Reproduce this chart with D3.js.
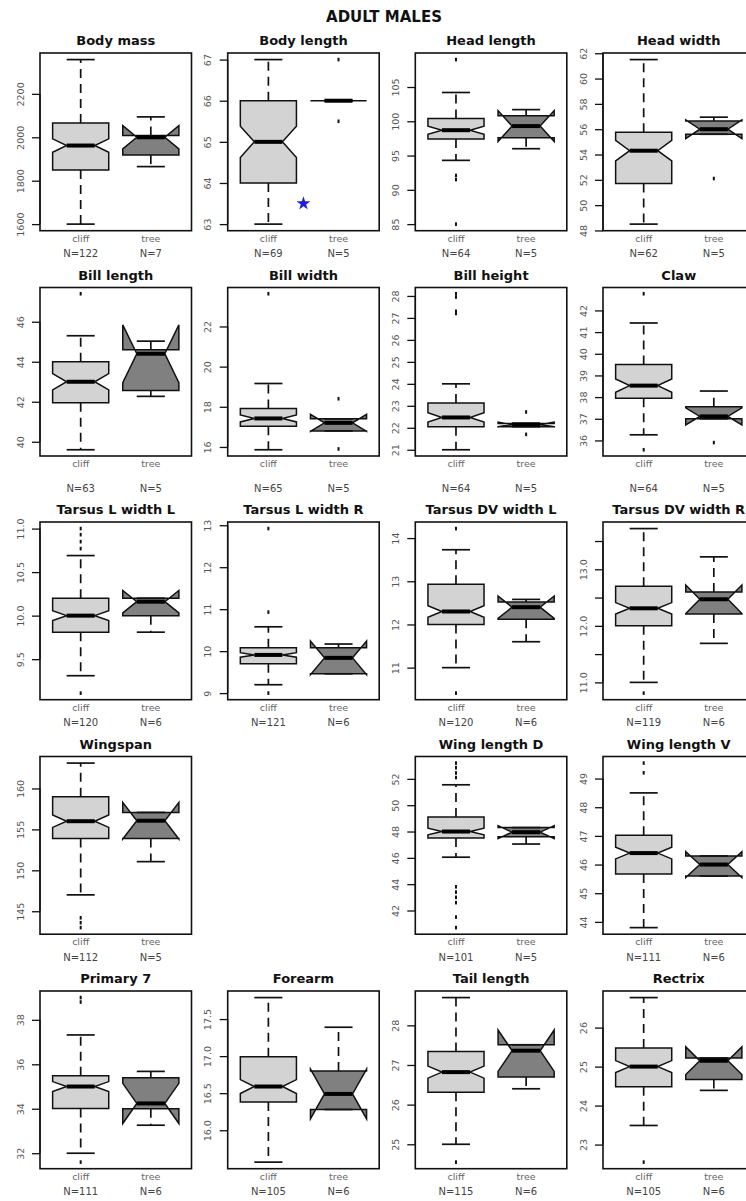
<!DOCTYPE html>
<html>
<head>
<meta charset="utf-8">
<script src="https://cdn.jsdelivr.net/npm/d3@7"></script>
<style>
  body { margin: 0; background: #fff; }
  svg { display: block; }
</style>
</head>
<body>
<svg id="chart" width="746" height="1201"></svg>
<script>
// ---- Measurements of adult males, cliff- vs tree-nesting birds ----
const mainTitle = "ADULT MALES";
const groupNames = ["cliff", "tree"];

// One entry per grid slot (row-major, 5 rows x 4 columns); null = empty slot
const panelTitles = [
  "Body mass", "Body length", "Head length", "Head width",
  "Bill length", "Bill width", "Bill height", "Claw",
  "Tarsus L width L", "Tarsus L width R", "Tarsus DV width L", "Tarsus DV width R",
  "Wingspan", null, "Wing length D", "Wing length V",
  "Primary 7", "Forearm", "Tail length", "Rectrix"
];

const nCliff = [122, 69, 64, 62, 63, 65, 64, 64, 120, 121, 120, 119, 112, null, 101, 111, 111, 105, 115, 105];
const nTree  = [7, 5, 5, 5, 5, 5, 5, 5, 6, 6, 6, 6, 5, null, 5, 6, 6, 6, 6, 6];

// [lower whisker, lower hinge, median, upper hinge, upper whisker]
const cliffStats = [
  [1600, 1849, 1962, 2066, 2358],
  [63, 64, 65, 66, 67],
  [94.3, 97.4, 98.7, 100.4, 104.2],
  [48.5, 51.7, 54.3, 55.75, 61.5],
  [39.6, 41.95, 43.0, 44.0, 45.3],
  [15.86, 17.03, 17.42, 17.92, 19.16],
  [21.0, 22.05, 22.47, 23.13, 24.0],
  [36.26, 37.95, 38.53, 39.51, 41.42],
  [9.31, 9.81, 10.0, 10.2, 10.69],
  [9.2, 9.7, 9.91, 10.08, 10.58],
  [11.0, 12.0, 12.3, 12.93, 13.73],
  [11.0, 12.0, 12.31, 12.7, 13.72],
  [147.0, 153.9, 156.0, 159.0, 163.1],
  null,
  [46.05, 47.5, 48.0, 49.1, 51.55],
  [43.8, 45.67, 46.4, 47.02, 48.5],
  [32.0, 34.01, 35.0, 35.49, 37.32],
  [15.57, 16.38, 16.59, 16.99, 17.79],
  [25.0, 26.31, 26.82, 27.34, 28.7],
  [23.49, 24.48, 25.0, 25.48, 26.77]
];

const treeStats = [
  [1865, 1918, 2000, 2008, 2094],
  [66, 66, 66, 66, 66],
  [96.0, 97.6, 99.3, 100.8, 101.7],
  [55.6, 55.6, 56.0, 56.65, 56.95],
  [42.27, 42.56, 44.4, 44.6, 45.03],
  [16.8, 16.8, 17.2, 17.4, 17.4],
  [22.05, 22.05, 22.15, 22.2, 22.2],
  [37.0, 37.0, 37.11, 37.56, 38.28],
  [9.81, 10.0, 10.16, 10.2, 10.2],
  [9.46, 9.46, 9.84, 10.08, 10.17],
  [11.6, 12.12, 12.4, 12.52, 12.58],
  [11.69, 12.21, 12.47, 12.6, 13.22],
  [151.06, 153.9, 156.06, 157.07, 157.07],
  null,
  [47.05, 47.6, 47.95, 48.3, 48.3],
  [45.6, 45.6, 46.0, 46.3, 46.3],
  [33.26, 34.0, 34.24, 35.4, 35.68],
  [16.28, 16.28, 16.49, 16.8, 17.39],
  [26.4, 26.7, 27.36, 27.51, 27.51],
  [24.39, 24.67, 25.15, 25.22, 25.22]
];

// Points beyond the whiskers
const cliffOutliers = [
  [], [], [109, 92.1, 91.5, 85], [],
  [47.4], [23.63], [28.1, 27.95, 27.3, 27.2], [42.77, 35.57],
  [11.0, 10.93, 10.85, 10.77, 9.11], [12.92, 10.93, 9.0], [14.22, 10.41], [10.81],
  [144.2, 143.6, 143.0], null, [53.2, 52.85, 52.45, 52.1, 43.8, 43.4, 43.0, 42.6, 41.5, 40.7], [49.54, 49.2],
  [39.0, 38.8, 31.6], [], [24.55], [22.55]
];
const treeOutliers = [
  [], [67, 65.5], [], [52.1],
  [], [18.4, 15.9], [22.72, 21.7], [35.9],
  [], [], [], [],
  [], null, [], [],
  [], [], [], []
];

// y-axis ticks and their printed labels ("" = tick without label)
const tickValues = [
  [1600, 1800, 2000, 2200], [63, 64, 65, 66, 67], [85, 90, 95, 100, 105], [48, 50, 52, 54, 56, 58, 60, 62],
  [40, 42, 44, 46], [16, 18, 20, 22], [21, 22, 23, 24, 25, 26, 27, 28], [36, 37, 38, 39, 40, 41, 42],
  [9.5, 10.0, 10.5, 11.0], [9, 10, 11, 12, 13], [11, 12, 13, 14], [11.0, 11.5, 12.0, 12.5, 13.0, 13.5],
  [145, 150, 155, 160], null, [42, 44, 46, 48, 50, 52], [44, 45, 46, 47, 48, 49],
  [32, 34, 36, 38], [16.0, 16.5, 17.0, 17.5], [25, 26, 27, 28], [23, 24, 25, 26]
];
const tickLabels = [
  ["1600", "1800", "2000", "2200"], ["63", "64", "65", "66", "67"], ["85", "90", "95", "100", "105"], ["48", "50", "52", "54", "56", "58", "60", "62"],
  ["40", "42", "44", "46"], ["16", "18", "20", "22"], ["21", "22", "23", "24", "25", "26", "27", "28"], ["36", "37", "38", "39", "40", "41", "42"],
  ["9.5", "10.0", "10.5", "11.0"], ["9", "10", "11", "12", "13"], ["11", "12", "13", "14"], ["11.0", "", "12.0", "", "13.0", ""],
  ["145", "150", "155", "160"], null, ["42", "44", "46", "48", "50", "52"], ["44", "45", "46", "47", "48", "49"],
  ["32", "34", "36", "38"], ["16.0", "16.5", "17.0", "17.5"], ["25", "26", "27", "28"], ["23", "24", "25", "26"]
];

// Significance marker: [panel index, x position, value]
const markers = [[1, 1.5, 63.5]];

// ---- Layout ----
const svg = d3.select("#chart");
const FONT = "'DejaVu Sans', 'Liberation Sans', Arial, sans-serif";
const colLeft = [40, 227.7, 415.3, 603];
const plotW = 151.5;
const rowPitch = 234.5;
const firstTop = 53;
const plotH = r => (r === 1 ? 168.5 : 177.7);
const boxFill = ["#d3d3d3", "#808080"];

svg.append("text")
  .attr("x", 384).attr("y", 22)
  .attr("text-anchor", "middle")
  .attr("font-family", FONT).attr("font-weight", "bold").attr("font-size", 15)
  .attr("fill", "#111")
  .text(mainTitle);

panelTitles.forEach((title, i) => {
  if (title === null) return;
  const row = Math.floor(i / 4), col = i % 4;
  const top = firstTop + row * rowPitch;
  const bottom = top + plotH(row);
  const left = colLeft[col], right = left + plotW;

  const groups = [
    { stats: cliffStats[i], out: cliffOutliers[i], n: nCliff[i], pos: 1 },
    { stats: treeStats[i], out: treeOutliers[i], n: nTree[i], pos: 2 }
  ];
  groups.forEach(g => {
    const half = 1.58 * (g.stats[3] - g.stats[1]) / Math.sqrt(g.n);
    g.conf = [g.stats[2] - half, g.stats[2] + half];
  });

  // Value range covers whiskers, outliers and notches, padded 4% each side
  const all = groups.flatMap(g => [g.stats[0], g.stats[4], ...g.out, ...g.conf]);
  const lo = d3.min(all), hi = d3.max(all), pad = (hi - lo) * 0.04;
  const y = d3.scaleLinear().domain([lo - pad, hi + pad]).range([bottom, top]);
  const x = d3.scaleLinear().domain([0.42, 2.58]).range([left, right]);

  const p = svg.append("g");

  // Panel title
  p.append("text")
    .attr("x", (left + right) / 2).attr("y", top - 8)
    .attr("text-anchor", "middle")
    .attr("font-family", FONT).attr("font-weight", "bold").attr("font-size", 13)
    .attr("fill", "#111")
    .text(title);

  // y axis: line from first to last tick, outward ticks, rotated labels
  const ticks = tickValues[i];
  const yAxis = d3.axisLeft(y)
    .tickValues(ticks)
    .tickSize(8)
    .tickSizeOuter(0)
    .tickFormat((d, k) => tickLabels[i][k]);
  const ax = p.append("g").attr("transform", `translate(${left},0)`).call(yAxis);
  ax.select(".domain")
    .attr("d", `M0,${y(ticks[0])}V${y(ticks[ticks.length - 1])}`)
    .attr("stroke", "#111").attr("stroke-width", 1.3);
  ax.selectAll(".tick line").attr("stroke", "#111").attr("stroke-width", 1.3);
  ax.selectAll(".tick text")
    .attr("font-family", FONT).attr("font-size", 9.5).attr("fill", "#555")
    .attr("x", null).attr("dy", null)
    .attr("text-anchor", "middle")
    .attr("transform", "translate(-16.5,0) rotate(-90)");

  const halfW = x(0.4) - x(0);
  const stapleW = x(0.2) - x(0);

  groups.forEach((g, k) => {
    const cx = x(g.pos);
    const [wLo, q1, med, q3, wHi] = g.stats.map(y);
    const cLo = y(g.conf[0]), cHi = y(g.conf[1]);

    // Notched box
    const pts = [
      [cx - halfW, q1], [cx + halfW, q1], [cx + halfW, cLo], [cx + halfW / 2, med],
      [cx + halfW, cHi], [cx + halfW, q3], [cx - halfW, q3], [cx - halfW, cHi],
      [cx - halfW / 2, med], [cx - halfW, cLo]
    ];
    p.append("path")
      .attr("d", d3.line()(pts) + "Z")
      .attr("fill", boxFill[k])
      .attr("stroke", "#111").attr("stroke-width", 1.5)
      .attr("stroke-linejoin", "miter");

    // Whiskers (dashed) and staples
    [[q1, wLo], [q3, wHi]].forEach(([from, to]) => {
      if (Math.abs(from - to) > 0.5) {
        p.append("line")
          .attr("x1", cx).attr("x2", cx).attr("y1", from).attr("y2", to)
          .attr("stroke", "#111").attr("stroke-width", 1.7)
          .attr("stroke-dasharray", "9,6");
      }
      p.append("line")
        .attr("x1", cx - stapleW).attr("x2", cx + stapleW).attr("y1", to).attr("y2", to)
        .attr("stroke", "#111").attr("stroke-width", 1.7);
    });

    // Median
    p.append("line")
      .attr("x1", cx - halfW / 2).attr("x2", cx + halfW / 2).attr("y1", med).attr("y2", med)
      .attr("stroke", "#000").attr("stroke-width", 4);

    // Outliers
    p.selectAll(null).data(g.out).enter().append("rect")
      .attr("x", cx - 1).attr("y", d => y(d) - 1.8)
      .attr("width", 2).attr("height", 3.6)
      .attr("fill", "#111");

    // Group name and sample size under the panel
    p.append("text")
      .attr("x", cx).attr("y", bottom + 11)
      .attr("text-anchor", "middle")
      .attr("font-family", FONT).attr("font-size", 9.5).attr("fill", "#666")
      .text(groupNames[k]);
    p.append("text")
      .attr("x", cx).attr("y", 257 + row * rowPitch)
      .attr("text-anchor", "middle")
      .attr("font-family", FONT).attr("font-size", 10).attr("fill", "#444")
      .text("N=" + g.n);
  });

  // Significance markers
  markers.filter(m => m[0] === i).forEach(m => {
    p.append("path")
      .attr("d", d3.symbol().type(d3.symbolStar).size(60)())
      .attr("transform", `translate(${x(m[1])},${y(m[2])})`)
      .attr("fill", "#1f1fd6");
  });

  // Plot frame
  p.append("rect")
    .attr("x", left).attr("y", top)
    .attr("width", plotW).attr("height", bottom - top)
    .attr("fill", "none").attr("stroke", "#111").attr("stroke-width", 1.6);
});
</script>
</body>
</html>
